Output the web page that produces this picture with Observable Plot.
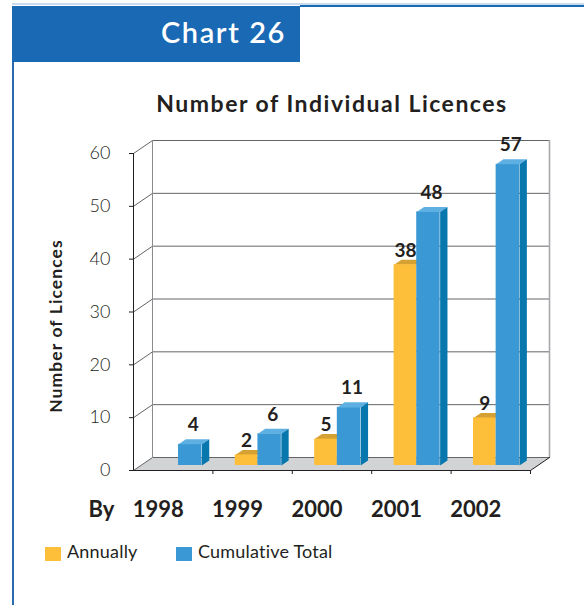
<!DOCTYPE html>
<html>
<head>
<meta charset="utf-8">
<script src="https://cdn.jsdelivr.net/npm/d3@7"></script>
<script src="https://cdn.jsdelivr.net/npm/@observablehq/plot@0.6"></script>
<style>
  html, body { margin: 0; padding: 0; background: #fff; }
  body { width: 584px; height: 605px; position: relative; overflow: hidden; font-family: Lato, "Open Sans", sans-serif; color: #231f20; }
  #chart { position: absolute; left: 0; top: 0; }
  .abs { position: absolute; white-space: nowrap; }
  #topline-light { left: 12px; top: 3px; width: 572px; height: 2px; background: #c9dbee; }
  #topline { left: 300px; top: 5px; width: 284px; height: 2px; background: #1b69b3; }
  #leftline { left: 12px; top: 62px; width: 2px; height: 543px; background: #2a6bb0; }
  #header { left: 12px; top: 6px; width: 288px; height: 56px; background: #1a69b4; }
  #header span { position: absolute; right: 14px; top: 11px; color: #fff; font-size: 29px; font-weight: 600; line-height: 1; letter-spacing: 1.6px; }
  #title { left: 0; width: 664px; top: 92px; text-align: center; font-size: 23px; font-weight: 700; line-height: 1; letter-spacing: 1.5px; }
  #ylabel { left: 56px; top: 326px; transform: translate(-50%, -50%) rotate(-90deg); font-size: 17.5px; font-weight: 700; line-height: 1; letter-spacing: 1.1px; }
  .sw { position: absolute; width: 16px; height: 14px; top: 547px; }
  .lg { position: absolute; top: 542px; font-size: 18px; line-height: 1; letter-spacing: 0.2px; }
</style>
</head>
<body>
<div id="chart"></div>
<div class="abs" id="topline-light"></div>
<div class="abs" id="topline"></div>
<div class="abs" id="leftline"></div>
<div class="abs" id="header"><span id="headerText"></span></div>
<div class="abs" id="title"></div>
<div class="abs" id="ylabel"></div>
<div id="legend"></div>
<script>
// ---- data ----
const chartName = "Chart 26";
const chartTitle = "Number of Individual Licences";
const yAxisTitle = "Number of Licences";
const periodPrefix = "By";
const years = ["1998", "1999", "2000", "2001", "2002"];
const seriesNames = ["Annually", "Cumulative Total"];
const annual = [null, 2, 5, 38, 9];
const cumulative = [4, 6, 11, 48, 57];
const yTicks = [0, 10, 20, 30, 40, 50, 60];

// ---- colours ----
const colAnnual = { front: "#fdbe3a", top: "#d6a133" };
const colCum = { front: "#3a98d4", top: "#5eb0e3", side: "#0877ae" };
const swatch = { "Annually": colAnnual.front, "Cumulative Total": colCum.front };

// ---- text ----
document.getElementById("headerText").textContent = chartName;
document.getElementById("title").textContent = chartTitle;
document.getElementById("ylabel").textContent = yAxisTitle;
const legend = document.getElementById("legend");
const legendX = [[45, 67], [176, 198]];
seriesNames.forEach((s, i) => {
  const sw = document.createElement("div");
  sw.className = "sw"; sw.style.left = legendX[i][0] + "px"; sw.style.background = swatch[s];
  const t = document.createElement("div");
  t.className = "lg"; t.style.left = legendX[i][1] + "px"; t.textContent = s;
  legend.appendChild(sw); legend.appendChild(t);
});

// ---- layout / 3D projection ----
const W = 584, H = 605;
const mL = 133, mR = 54, mT = 153, mB = 135;
const nCat = years.length;
const yMax = 60;
const pxPerX = (W - mL - mR) / nCat;
const pxPerY = (H - mT - mB) / yMax;
const WDX = 19 / pxPerX;   // wall depth in x data units
const WDY = 13 / pxPerY;   // wall depth in y data units
const DF = 0.385, DB = 0.77; // bar front / back depth (fraction of wall depth)
const proj = (cx, v, d) => ({ x: cx + d * WDX, y: v + d * WDY });

const bars = [];
years.forEach((yr, i) => {
  if (annual[i] != null) bars.push({ series: seriesNames[0], v: annual[i], x1: i + 0.19, x2: i + 0.475 });
  bars.push({ series: seriesNames[1], v: cumulative[i], x1: i + 0.475, x2: i + 0.77 });
});
const annualBars = bars.filter(b => b.series === seriesNames[0]);
const cumBars = bars.filter(b => b.series === seriesNames[1]);

function polys(list, fn) {
  const out = [];
  list.forEach((b, k) => fn(b).forEach(p => out.push({ ...p, id: k })));
  return out;
}
const topFace = b => [proj(b.x1, b.v, DF), proj(b.x2, b.v, DF), proj(b.x2, b.v, DB), proj(b.x1, b.v, DB)];
const sideFace = b => [proj(b.x2, 0, DF), proj(b.x2, b.v, DF), proj(b.x2, b.v, DB), proj(b.x2, 0, DB)];

const floor = [proj(0, 0, 0), proj(nCat, 0, 0), proj(nCat, 0, 1), proj(0, 0, 1)];
const grid = [];
yTicks.forEach(t => [proj(0, t, 0), proj(0, t, 1), proj(nCat, t, 1)].forEach(p => grid.push({ ...p, t })));
const backLeft = [proj(0, 0, 1), proj(0, yMax, 1)];
const backRight = [proj(nCat, 0, 1), proj(nCat, yMax, 1)];
const floorRight = [proj(nCat, 0, 0), proj(nCat, 0, 1)];

const font = "Lato, 'Open Sans', sans-serif";

const plot = Plot.plot({
  width: W, height: H,
  marginLeft: mL, marginRight: mR, marginTop: mT, marginBottom: mB,
  style: { background: "transparent", fontFamily: font, overflow: "visible", color: "#231f20" },
  x: { type: "linear", domain: [0, nCat] },
  y: { type: "linear", domain: [0, yMax] },
  marks: [
    // floor
    Plot.line(floor, { x: "x", y: "y", fill: "#d1d3d4", stroke: "none", curve: "linear-closed" }),
    // back wall grid lines and left-wall diagonals
    Plot.line(grid, { x: "x", y: "y", z: "t", stroke: "#636466", strokeWidth: 1 }),
    Plot.line(backLeft, { x: "x", y: "y", stroke: "#8a8c8f", strokeWidth: 1 }),
    Plot.line(backRight, { x: "x", y: "y", stroke: "#a7a9ac", strokeWidth: 1.6 }),
    Plot.line(floorRight, { x: "x", y: "y", stroke: "#231f20", strokeWidth: 1 }),
    // front axes
    Plot.ruleX([0], { y1: 0, y2: yMax, stroke: "#231f20", strokeWidth: 1 }),
    Plot.ruleY([0], { x1: 0, x2: nCat, stroke: "#231f20", strokeWidth: 1 }),
    Plot.axisY({ ticks: yTicks, tickSize: 4, tickPadding: 19, label: null, fontSize: 18, fontWeight: 300, stroke: "#231f20" }),
    Plot.axisX({ ticks: d3.range(1, nCat + 1), tickSize: 4, tickFormat: () => "", label: null, stroke: "#231f20" }),
    // annual bars
    Plot.line(polys(annualBars, topFace), { x: "x", y: "y", z: "id", fill: colAnnual.top, stroke: "none", curve: "linear-closed" }),
    Plot.rect(annualBars, { x1: d => d.x1 + DF * WDX, x2: d => d.x2 + DF * WDX, y1: DF * WDY, y2: d => d.v + DF * WDY, fill: colAnnual.front }),
    // cumulative bars
    Plot.rect(cumBars, { x1: d => d.x1 + DF * WDX, x2: d => d.x2 + DF * WDX, y1: DF * WDY, y2: d => d.v + DF * WDY, fill: colCum.front }),
    Plot.line(polys(cumBars, topFace), { x: "x", y: "y", z: "id", fill: colCum.top, stroke: "none", curve: "linear-closed" }),
    Plot.line(polys(cumBars, sideFace), { x: "x", y: "y", z: "id", fill: colCum.side, stroke: "none", curve: "linear-closed" }),
    // value labels
    Plot.text(annualBars, { x: d => (d.x1 + d.x2) / 2 + DF * WDX, y: d => d.v + DF * WDY, text: d => String(d.v), dy: -14, fontSize: 19, fontWeight: 700, fill: "#231f20" }),
    Plot.text(cumBars, { x: d => (d.x1 + d.x2) / 2 + DF * WDX, y: d => d.v + DF * WDY, text: d => String(d.v), dx: 3, dy: -19, fontSize: 19, fontWeight: 700, fill: "#231f20" }),
    // category labels
    Plot.text([periodPrefix], { x: 0, y: 0, dx: -32, dy: 39, fontSize: 22, fontWeight: 700, fill: "#231f20" }),
    Plot.text(years, { x: (d, i) => i + 0.5, y: 0, dx: -15, dy: 39, fontSize: 22, fontWeight: 700, fill: "#231f20" })
  ]
});
document.getElementById("chart").appendChild(plot);
</script>
</body>
</html>
